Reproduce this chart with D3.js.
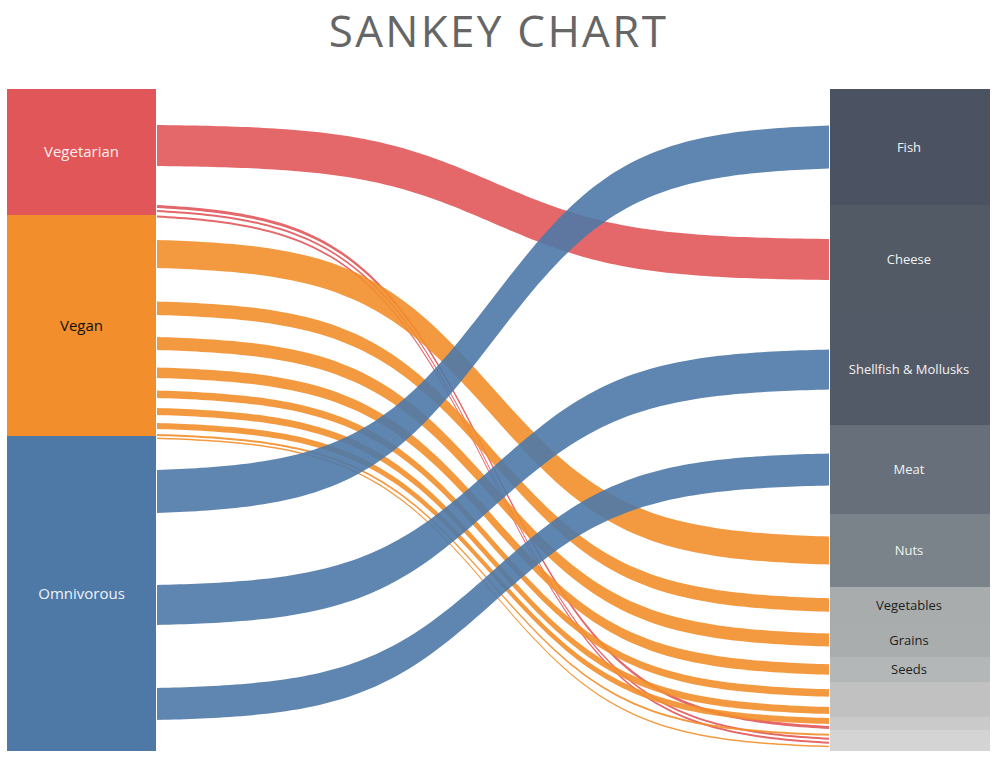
<!DOCTYPE html>
<html>
<head>
<meta charset="utf-8">
<script src="https://cdn.jsdelivr.net/npm/d3@7"></script>
<style>
  html, body { margin: 0; padding: 0; background: #ffffff; }
  svg { display: block; }
</style>
</head>
<body>
<svg id="chart" width="997" height="758"></svg>
<script>
// ---------------- DATA ----------------
const title = "SANKEY CHART";

const leftNames  = ["Vegetarian", "Vegan", "Omnivorous"];
const leftValues = [126, 221, 315];

const rightNames  = ["Fish", "Cheese", "Shellfish & Mollusks", "Meat", "Nuts",
                     "Vegetables", "Grains", "Seeds", "", "", "", ""];
const rightValues = [116, 109, 111, 89, 73, 36, 34, 25, 22, 13, 13, 21];

// links (in stacking order): source index, target index, thickness, slot at source
const linkSource = [0, 1, 1, 1, 1, 1, 1, 1, 0, 1, 0, 0, 1, 2, 2, 2];
const linkTarget = [1, 4, 5, 6, 7, 8, 9, 10, 10, 11, 11, 11, 11, 0, 2, 3];
const linkValue  = [41, 28, 13.5, 13, 10.5, 7.5, 7, 6, 3, 2, 2, 2, 1.5, 43, 40, 32];
const linkSlot   = [77, 53, 47, 35, 28, 20, 17, 14, 42, 7, 4, 5.5, 3, 77, 112, 95];

// ---------------- STYLE ----------------
const leftColors  = ["#e15759", "#f28e2b", "#4e79a7"];
const leftText    = ["#fbeeee", "#111111", "#eef2f7"];
const rightColors = ["#4b5261", "#515a65", "#535a67", "#67707a", "#7a8389",
                     "#a8acac", "#a9adad", "#b4b7b7", "#c0c1c0", "#c0c1c0", "#c9cac9", "#d4d4d4"];
const rightText   = ["#f2f2f2", "#f2f2f2", "#f2f2f2", "#f2f2f2", "#f2f2f2",
                     "#1e1e1e", "#1e1e1e", "#1e1e1e", "#1e1e1e", "#1e1e1e", "#1e1e1e", "#1e1e1e"];

const W = 997, H = 758;
const plotTop = 89, plotBottom = 751;
const leftX0 = 7, leftX1 = 156;
const rightX0 = 830, rightX1 = 990;
const linkX0 = 157, linkX1 = 829;
const targetGap = 2;

const svg = d3.select("#chart");

// title
svg.append("text")
  .attr("x", W / 2)
  .attr("y", 47.3)
  .attr("text-anchor", "middle")
  .attr("font-family", "'Open Sans', sans-serif")
  .attr("font-size", 44)
  .attr("letter-spacing", 2.3)
  .attr("fill", "#666666")
  .text(title);

// scales
const yL = d3.scaleLinear().domain([0, d3.sum(leftValues)]).range([plotTop, plotBottom]);
const yR = d3.scaleLinear().domain([0, d3.sum(rightValues)]).range([plotTop, plotBottom]);

const leftNodes = leftNames.map((n, i) => {
  const s = d3.sum(leftValues.slice(0, i));
  return { name: n, start: s, end: s + leftValues[i], i };
});
const rightNodes = rightNames.map((n, i) => {
  const s = d3.sum(rightValues.slice(0, i));
  return { name: n, start: s, end: s + rightValues[i], i };
});

// link layout
const links = linkSource.map((s, i) => ({
  i, source: s, target: linkTarget[i], value: linkValue[i], slot: linkSlot[i]
}));
// source side: slots stacked from node top, ribbon sits at the bottom of its slot
const cursor = leftNodes.map(n => n.start);
links.forEach(l => {
  cursor[l.source] += l.slot;
  l.s1 = cursor[l.source];
  l.s0 = l.s1 - l.value;
});
// target side: ribbons stacked and centered in the target node
rightNodes.forEach(n => {
  const ls = links.filter(l => l.target === n.i);
  const total = d3.sum(ls, l => l.value) + targetGap * (ls.length - 1);
  let c = (n.start + n.end) / 2 - total / 2;
  ls.forEach(l => { l.t0 = c; l.t1 = c + l.value; c += l.value + targetGap; });
});

// sigmoid ribbons
const K = 5;
const sig = t => 1 / (1 + Math.exp(-t));
const f = u => (sig(-K + 2 * K * u) - sig(-K)) / (sig(K) - sig(-K));
const us = d3.range(0, 1.00001, 1 / 120);
const xr = d3.scaleLinear().domain([0, 1]).range([linkX0, linkX1]);

const area = l => d3.area()
  .x(u => xr(u))
  .y0(u => yL(l.s0) + (yR(l.t0) - yL(l.s0)) * f(u))
  .y1(u => yL(l.s1) + (yR(l.t1) - yL(l.s1)) * f(u))(us);

const drawOrder = links.slice().sort((a, b) => a.source - b.source || a.i - b.i);
svg.append("g").selectAll("path")
  .data(drawOrder)
  .join("path")
  .attr("d", area)
  .attr("fill", l => leftColors[l.source])
  .attr("fill-opacity", 0.9);

// left nodes
const gl = svg.append("g");
gl.selectAll("rect").data(leftNodes).join("rect")
  .attr("x", leftX0).attr("width", leftX1 - leftX0)
  .attr("y", d => yL(d.start)).attr("height", d => yL(d.end) - yL(d.start))
  .attr("fill", d => leftColors[d.i]);
gl.selectAll("text").data(leftNodes).join("text")
  .attr("x", (leftX0 + leftX1) / 2)
  .attr("y", d => (yL(d.start) + yL(d.end)) / 2)
  .attr("dy", "0.35em")
  .attr("text-anchor", "middle")
  .attr("font-family", "'Open Sans', sans-serif")
  .attr("font-size", 15)
  .attr("fill", d => leftText[d.i])
  .text(d => d.name);

// right nodes
const gr = svg.append("g");
gr.selectAll("rect").data(rightNodes).join("rect")
  .attr("x", rightX0).attr("width", rightX1 - rightX0)
  .attr("y", d => yR(d.start)).attr("height", d => yR(d.end) - yR(d.start))
  .attr("fill", d => rightColors[d.i]);
gr.selectAll("text").data(rightNodes.filter(d => d.name && (yR(d.end) - yR(d.start)) >= 24)).join("text")
  .attr("x", (rightX0 + rightX1) / 2 - 1)
  .attr("y", d => (yR(d.start) + yR(d.end)) / 2)
  .attr("dy", "0.35em")
  .attr("text-anchor", "middle")
  .attr("font-family", "'Open Sans', sans-serif")
  .attr("font-size", 13)
  .attr("fill", d => rightText[d.i])
  .text(d => d.name);
</script>
</body>
</html>
